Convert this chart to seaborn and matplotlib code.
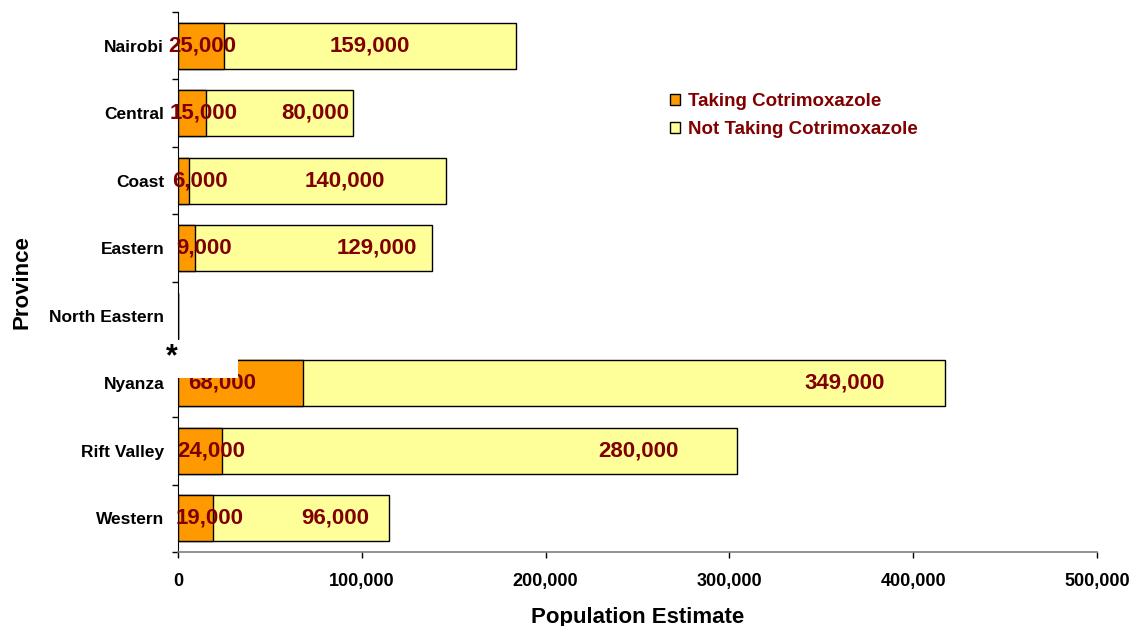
import matplotlib
matplotlib.use('Agg')
import matplotlib.pyplot as plt
import matplotlib.patches as mpatches
import numpy as np
import pandas as pd
import seaborn as sns

provinces = ['Nairobi', 'Central', 'Coast', 'Eastern', 'North Eastern', 'Nyanza', 'Rift Valley', 'Western']
taking = [25000, 15000, 6000, 9000, 0, 68000, 24000, 19000]
not_taking = [159000, 80000, 140000, 129000, 0, 349000, 280000, 96000]

# where Excel put the data labels (x, data units)
taking_label_x = [13000, 13900, 11700, 14400, None, 24200, 18000, 17400]
not_taking_label_x = [104500, 74500, 90900, 108300, None, 362400, 250300, 85400]

ORANGE = '#FF9900'
YELLOW = '#FFFF99'
LABEL_RED = '#800000'


def main():
    sns.set_style('white')
    plt.rcParams['font.family'] = ['Liberation Sans', 'DejaVu Sans']
    plt.rcParams['font.weight'] = 'bold'
    plt.rcParams['text.color'] = 'black'
    plt.rcParams['axes.labelcolor'] = 'black'
    plt.rcParams['xtick.color'] = 'black'
    plt.rcParams['ytick.color'] = 'black'

    df = pd.DataFrame({'province': provinces, 'taking': taking, 'not_taking': not_taking})
    df['total'] = df['taking'] + df['not_taking']

    fig = plt.figure(figsize=(11.31, 6.26), dpi=100)
    ax = fig.add_axes([0.1574, 0.1182, 0.8126, 0.8627])

    sns.barplot(data=df, x='total', y='province', orient='h', color=YELLOW, saturation=1,
                edgecolor='black', linewidth=1, width=0.68, ax=ax)
    sns.barplot(data=df, x='taking', y='province', orient='h', color=ORANGE, saturation=1,
                edgecolor='black', linewidth=1, width=0.68, ax=ax)

    for i in range(len(provinces)):
        if taking[i] == 0:
            continue
        ax.text(taking_label_x[i], i, f'{taking[i]:,}', ha='center', va='center',
                color=LABEL_RED, fontsize=16, fontweight='bold')
        ax.text(not_taking_label_x[i], i, f'{not_taking[i]:,}', ha='center', va='center',
                color=LABEL_RED, fontsize=16, fontweight='bold')

    # white box and asterisk over the Nyanza bar, as in the original slide
    fig.patches.append(mpatches.Rectangle((173 / 1131, 1 - 378 / 626), 65 / 1131, 38 / 626,
                                          transform=fig.transFigure, facecolor='white',
                                          edgecolor='none', zorder=5))
    fig.text(172 / 1131, 1 - 357 / 626, '*', ha='center', va='center', fontsize=22,
             fontweight='bold', color='black', zorder=6)

    ax.set_xlim(0, 500000)
    ax.set_ylim(len(provinces) - 0.5, -0.5)
    ax.set_xticks(np.arange(0, 500001, 100000))
    ax.set_xticklabels([f'{v:,}' for v in range(0, 500001, 100000)], fontsize=13, fontweight='bold')
    ax.set_yticks(range(len(provinces)))
    ax.set_yticklabels(provinces, fontsize=12.5, fontweight='bold')
    ax.set_yticks(np.arange(-0.5, len(provinces)), minor=True)
    ax.tick_params(axis='y', which='major', left=True, length=0, pad=10)
    ax.tick_params(axis='y', which='minor', left=True, length=4.3, width=1, color='black', direction='out')
    ax.tick_params(axis='x', which='major', bottom=True, length=4, width=1, color='black',
                   direction='out', pad=11)

    for side in ['top', 'right']:
        ax.spines[side].set_visible(False)
    ax.spines['left'].set_color('black')
    ax.spines['bottom'].set_color('#808080')
    ax.spines['bottom'].set_linewidth(1.2)

    ax.set_xlabel('Population Estimate', fontsize=16, fontweight='bold', labelpad=12)
    ax.set_ylabel('Province', fontsize=16, fontweight='bold', labelpad=12)

    handles = [mpatches.Patch(facecolor=ORANGE, edgecolor='black', label='Taking Cotrimoxazole'),
               mpatches.Patch(facecolor=YELLOW, edgecolor='black', label='Not Taking Cotrimoxazole')]
    leg = ax.legend(handles=handles, loc='upper left', bbox_to_anchor=(653 / 1131, 1 - 76 / 626),
                    bbox_transform=fig.transFigure, frameon=False, fontsize=13.5,
                    handlelength=0.55, handleheight=0.55, handletextpad=0.4, labelspacing=0.6)
    for t in leg.get_texts():
        t.set_color(LABEL_RED)
        t.set_fontweight('bold')

    fig.savefig('out.png', dpi=100)


if __name__ == '__main__':
    main()
